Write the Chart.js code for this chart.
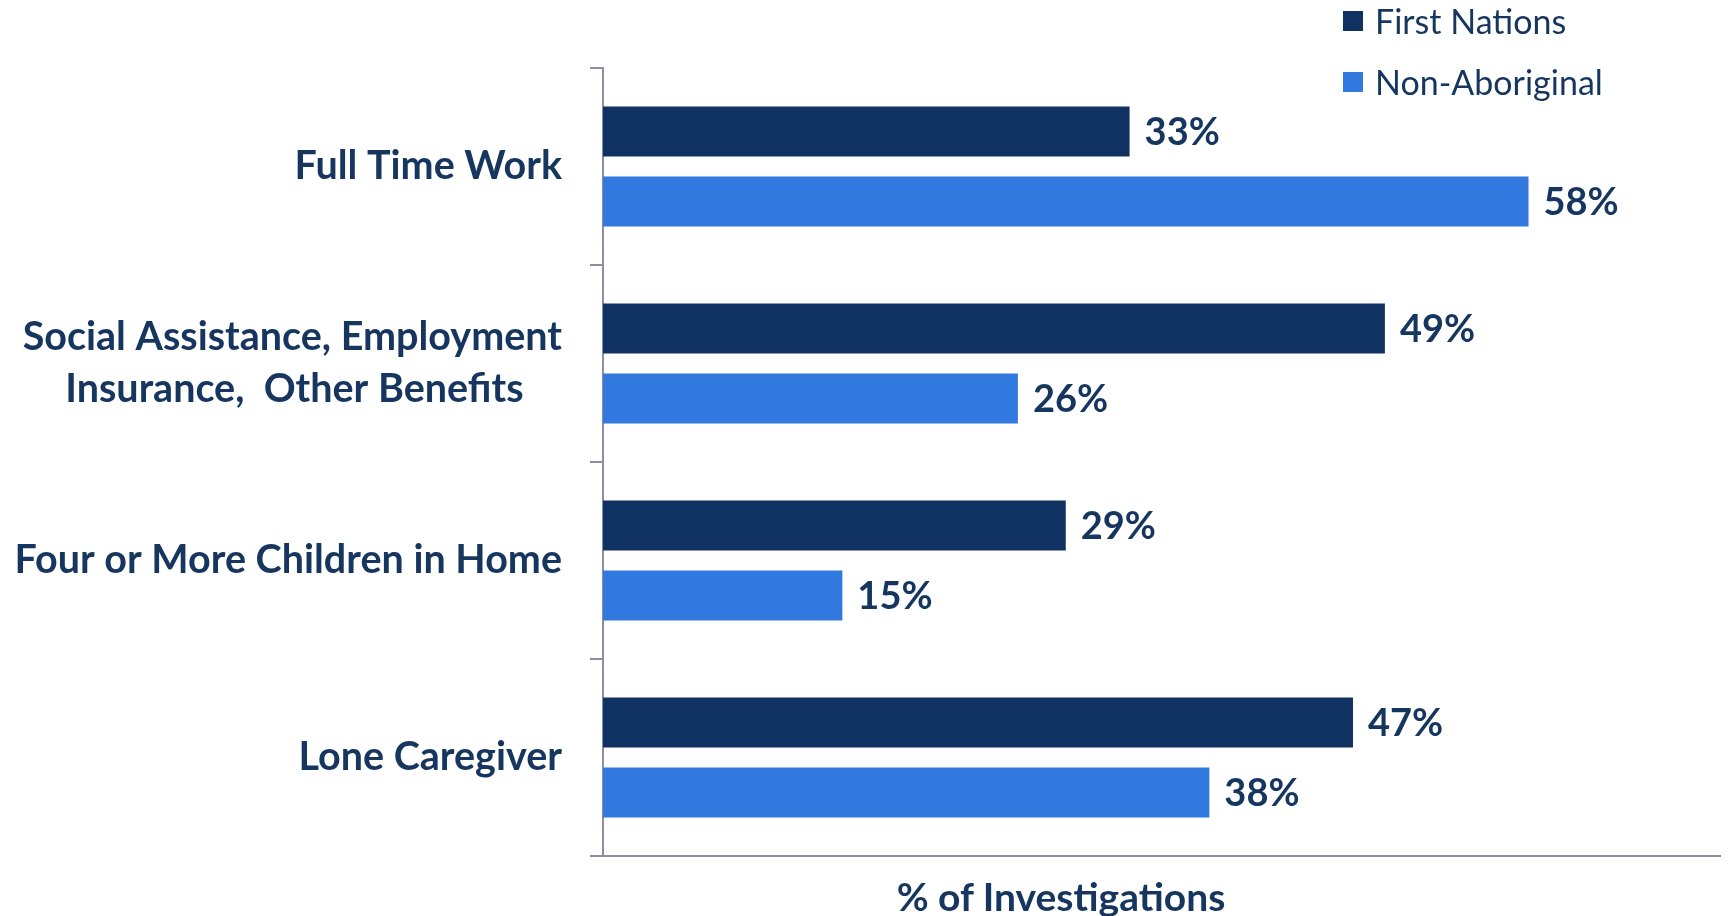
<!DOCTYPE html>
<html>
<head>
<meta charset="utf-8">
<script src="https://cdn.jsdelivr.net/npm/chart.js@4.4.1/dist/chart.umd.min.js"></script>
<style>
    body { margin: 0; background: #fff; overflow: hidden; }
    #wrap { position: relative; width: 1729px; height: 916px; }
    #legend { position: absolute; left: 1343px; top: -10px; font-family: Lato, sans-serif; font-size: 34px; color: #16365f; }
    #legend .item { display: flex; align-items: center; height: 61px; }
    #legend .box { width: 20px; height: 20px; margin-right: 12px; }
    #xTitle { position: absolute; left: 861px; width: 400px; top: 874px; line-height: 44px; text-align: center;
        font-family: Lato, sans-serif; font-weight: bold; font-size: 39px; color: #16365f; }
</style>
</head>
<body>
<div id="wrap">
    <canvas id="barChart" width="1729" height="916"></canvas>
    <div id="legend"></div>
    <div id="xTitle">% of Investigations</div>
</div>
<script>
const CHART = document.getElementById('barChart')
const TEXT_COLOR = '#16365f'
const AXIS_COLOR = '#8c8ea6'

const labels = [
    "Full Time Work",
    ["Social Assistance, Employment", "Insurance,  Other Benefits    "],
    "Four or More Children in Home",
    "Lone Caregiver"
]
const firstNations = [33, 49, 29, 47]
const nonAboriginal = [58, 26, 15, 38]

// value labels at the end of each bar
const valueLabels = {
    id: 'valueLabels',
    afterDatasetsDraw(chart) {
        const ctx = chart.ctx
        ctx.save()
        ctx.font = 'bold 38px Lato'
        ctx.fillStyle = TEXT_COLOR
        ctx.textAlign = 'left'
        ctx.textBaseline = 'middle'
        chart.data.datasets.forEach((ds, i) => {
            chart.getDatasetMeta(i).data.forEach((bar, j) => {
                ctx.fillText(ds.data[j] + '%', bar.x + 15, bar.y + 1)
            })
        })
        ctx.restore()
    }
}

let barChart = new Chart(CHART, {
    type: 'bar',
    data: {
        labels: labels,
        datasets: [
            {
                label: 'First Nations',
                data: firstNations,
                backgroundColor: '#103262',
            },
            {
                label: 'Non-Aboriginal',
                data: nonAboriginal,
                backgroundColor: '#3179df',
            }
        ]
    },
    options: {
        indexAxis: 'y',
        responsive: false,
        animation: false,
        layout: { padding: { top: 68, bottom: 60, right: 9, left: 0 } },
        datasets: {
            bar: { categoryPercentage: 0.711, barPercentage: 0.714 }
        },
        scales: {
            x: {
                min: 0,
                max: 70,
                ticks: { display: false },
                grid: { display: false, drawTicks: false },
                border: { color: AXIS_COLOR, width: 2 },
                afterFit: (s) => { s.height = 0 }
            },
            y: {
                offset: true,
                grid: { drawOnChartArea: false, offset: true, tickLength: 13, color: AXIS_COLOR, lineWidth: 2 },
                border: { color: AXIS_COLOR, width: 2 },
                ticks: {
                    padding: 28,
                    color: TEXT_COLOR,
                    font: { family: 'Lato', weight: 'bold', size: 39.5, lineHeight: 1.32 }
                },
                afterFit: (s) => { s.width = 603 }
            }
        },
        plugins: {
            legend: { display: false },
            tooltip: { enabled: false }
        }
    },
    plugins: [valueLabels]
})

// legend built from the datasets, stacked in the top right corner
const legendEl = document.getElementById('legend')
barChart.data.datasets.forEach(ds => {
    const item = document.createElement('div')
    item.className = 'item'
    const box = document.createElement('span')
    box.className = 'box'
    box.style.background = ds.backgroundColor
    item.appendChild(box)
    item.appendChild(document.createTextNode(ds.label))
    legendEl.appendChild(item)
})
</script>
</body>
</html>
